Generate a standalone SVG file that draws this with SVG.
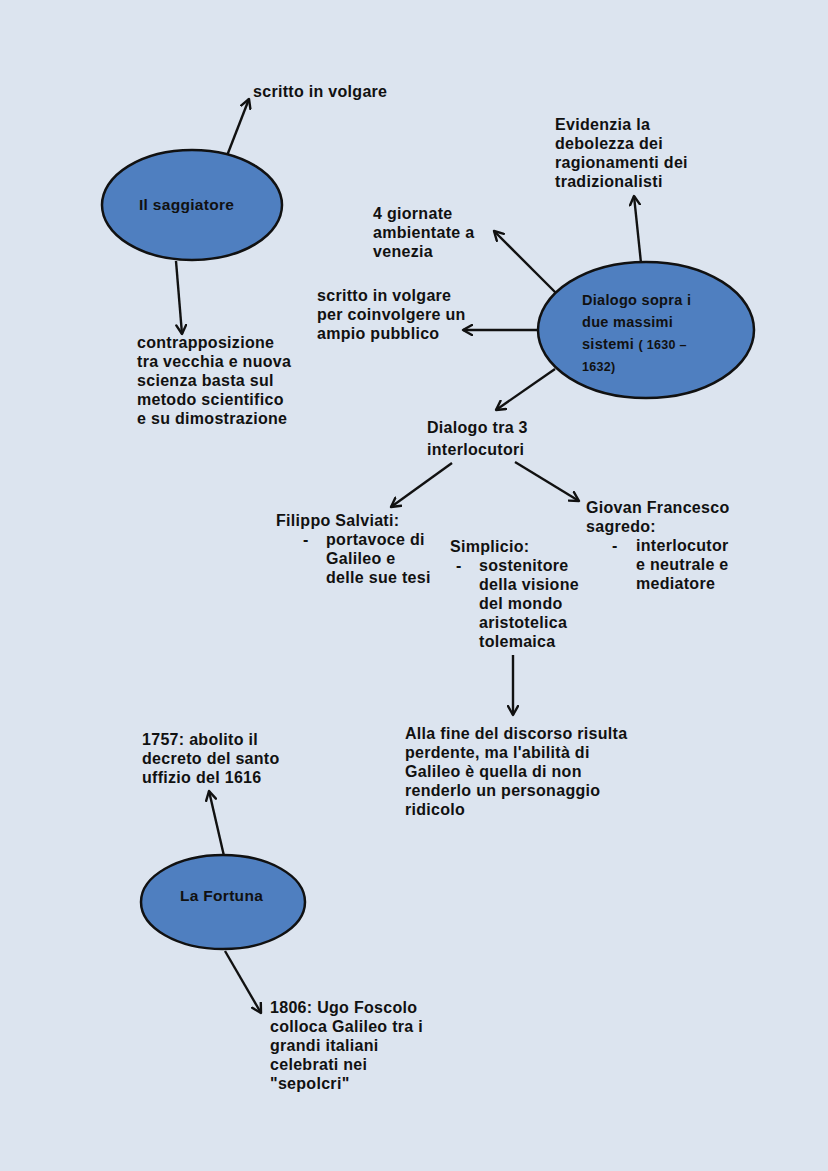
<svg xmlns="http://www.w3.org/2000/svg" width="828" height="1171" viewBox="0 0 828 1171">
<defs>
<marker id="arr" viewBox="0 0 12 12" refX="10" refY="6" markerWidth="12" markerHeight="12" markerUnits="userSpaceOnUse" orient="auto">
<path d="M1,1 L10,6 L1,11" fill="none" stroke="#111" stroke-width="2.4" stroke-linecap="round" stroke-linejoin="round"/>
</marker>
<style>
.n{fill:#4f7fc0;stroke:#111;stroke-width:2.5}
.t{font-family:"Liberation Sans",Arial,sans-serif;font-size:16px;font-weight:bold;fill:#111;letter-spacing:0.3px}
.e{font-size:15.5px}
.d{font-size:14.5px}
.s{font-size:12.5px}
.c line{stroke:#111;stroke-width:2.4;marker-end:url(#arr)}
</style>
</defs>
<rect width="828" height="1171" fill="#dce4ef"/>
<g class="c" id="connectors">
<line x1="223" y1="166" x2="249" y2="99"/>
<line x1="176" y1="261" x2="182" y2="334"/>
<line x1="641" y1="263" x2="634" y2="196"/>
<line x1="556" y1="293" x2="494" y2="231"/>
<line x1="538" y1="330" x2="463" y2="330"/>
<line x1="555" y1="369" x2="496" y2="410"/>
<line x1="452" y1="463" x2="391" y2="507"/>
<line x1="515" y1="462" x2="579" y2="501"/>
<line x1="513" y1="655" x2="513" y2="715"/>
<line x1="224" y1="856" x2="209" y2="791"/>
<line x1="225" y1="951" x2="261" y2="1013"/>
</g>
<g id="saggiatore">
<ellipse class="n" cx="192" cy="205" rx="90" ry="55"/>
<text class="t e" x="139" y="210">Il saggiatore</text>
</g>
<g id="volgare1"><text class="t" x="253" y="97">scritto in volgare</text></g>
<g id="contrapposizione">
<text class="t" x="137" y="348">contrapposizione</text>
<text class="t" x="137" y="367">tra vecchia e nuova</text>
<text class="t" x="137" y="386">scienza basta sul</text>
<text class="t" x="137" y="405">metodo scientifico</text>
<text class="t" x="137" y="424">e su dimostrazione</text>
</g>
<g id="dialogo">
<ellipse class="n" cx="646" cy="330" rx="108" ry="68"/>
<text class="t d" x="582" y="305">Dialogo sopra i</text>
<text class="t d" x="582" y="327">due massimi</text>
<text class="t d" x="582" y="349">sistemi <tspan class="s">( 1630 –</tspan></text>
<text class="t s" x="582" y="371">1632)</text>
</g>
<g id="evidenzia">
<text class="t" x="555" y="130">Evidenzia la</text>
<text class="t" x="555" y="149">debolezza dei</text>
<text class="t" x="555" y="168">ragionamenti dei</text>
<text class="t" x="555" y="187">tradizionalisti</text>
</g>
<g id="giornate">
<text class="t" x="373" y="219">4 giornate</text>
<text class="t" x="373" y="238">ambientate a</text>
<text class="t" x="373" y="257">venezia</text>
</g>
<g id="volgare2">
<text class="t" x="317" y="301">scritto in volgare</text>
<text class="t" x="317" y="320">per coinvolgere un</text>
<text class="t" x="317" y="339">ampio pubblico</text>
</g>
<g id="interlocutori">
<text class="t" x="427" y="433">Dialogo tra 3</text>
<text class="t" x="427" y="455">interlocutori</text>
</g>
<g id="salviati">
<text class="t" x="276" y="526">Filippo Salviati:</text>
<text class="t" x="303" y="545">-</text>
<text class="t" x="326" y="545">portavoce di</text>
<text class="t" x="326" y="564">Galileo e</text>
<text class="t" x="326" y="583">delle sue tesi</text>
</g>
<g id="simplicio">
<text class="t" x="450" y="552">Simplicio:</text>
<text class="t" x="456" y="571">-</text>
<text class="t" x="479" y="571">sostenitore</text>
<text class="t" x="479" y="590">della visione</text>
<text class="t" x="479" y="609">del mondo</text>
<text class="t" x="479" y="628">aristotelica</text>
<text class="t" x="479" y="647">tolemaica</text>
</g>
<g id="sagredo">
<text class="t" x="586" y="513">Giovan Francesco</text>
<text class="t" x="586" y="532">sagredo:</text>
<text class="t" x="612" y="551">-</text>
<text class="t" x="636" y="551">interlocutor</text>
<text class="t" x="636" y="570">e neutrale e</text>
<text class="t" x="636" y="589">mediatore</text>
</g>
<g id="fine">
<text class="t" x="405" y="739">Alla fine del discorso risulta</text>
<text class="t" x="405" y="758">perdente, ma l'abilità di</text>
<text class="t" x="405" y="777">Galileo è quella di non</text>
<text class="t" x="405" y="796">renderlo un personaggio</text>
<text class="t" x="405" y="815">ridicolo</text>
</g>
<g id="y1757">
<text class="t" x="142" y="745">1757: abolito il</text>
<text class="t" x="142" y="764">decreto del santo</text>
<text class="t" x="142" y="783">uffizio del 1616</text>
</g>
<g id="fortuna">
<ellipse class="n" cx="223" cy="902" rx="82" ry="47"/>
<text class="t e" x="180" y="901">La Fortuna</text>
</g>
<g id="y1806">
<text class="t" x="270" y="1013">1806: Ugo Foscolo</text>
<text class="t" x="270" y="1032">colloca Galileo tra i</text>
<text class="t" x="270" y="1051">grandi italiani</text>
<text class="t" x="270" y="1070">celebrati nei</text>
<text class="t" x="270" y="1089">"sepolcri"</text>
</g>
</svg>
